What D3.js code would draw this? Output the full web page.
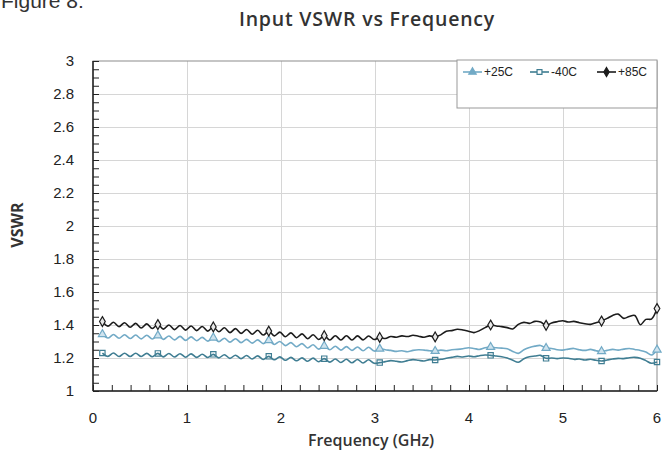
<!DOCTYPE html>
<html>
<head>
<meta charset="utf-8">
<script src="https://cdn.jsdelivr.net/npm/d3@7"></script>
<style>
body { margin: 0; background: #fff; }
text { font-family: "Liberation Sans", Arial, sans-serif; }
</style>
</head>
<body>
<script>
// frequency points (GHz)
var freq = [0.100,0.159,0.218,0.277,0.336,0.395,0.454,0.513,0.572,0.631,
  0.690,0.749,0.808,0.867,0.926,0.985,1.044,1.103,1.162,1.221,
  1.280,1.339,1.398,1.457,1.516,1.575,1.634,1.693,1.752,1.811,
  1.870,1.929,1.988,2.047,2.106,2.165,2.224,2.283,2.342,2.401,
  2.460,2.519,2.578,2.637,2.696,2.755,2.814,2.873,2.932,2.991,
  3.050,3.109,3.168,3.227,3.286,3.345,3.404,3.463,3.522,3.581,
  3.640,3.699,3.758,3.817,3.876,3.935,3.994,4.053,4.112,4.171,
  4.230,4.289,4.348,4.407,4.466,4.525,4.584,4.643,4.702,4.761,
  4.820,4.879,4.938,4.997,5.056,5.115,5.174,5.233,5.292,5.351,
  5.410,5.469,5.528,5.587,5.646,5.705,5.764,5.823,5.882,5.941,
  6.000];

var vswr25 = [1.344,1.321,1.342,1.320,1.341,1.318,1.339,1.316,1.338,1.315,
  1.336,1.313,1.333,1.310,1.331,1.307,1.328,1.305,1.325,1.302,
  1.323,1.299,1.320,1.296,1.317,1.293,1.313,1.290,1.310,1.287,
  1.307,1.282,1.300,1.275,1.293,1.268,1.287,1.261,1.280,1.254,
  1.273,1.250,1.271,1.248,1.269,1.246,1.267,1.244,1.265,1.242,
  1.256,1.250,1.246,1.240,1.244,1.238,1.246,1.250,1.248,1.244,
  1.242,1.248,1.244,1.250,1.252,1.256,1.262,1.258,1.252,1.262,
  1.266,1.262,1.260,1.256,1.240,1.228,1.250,1.264,1.272,1.276,
  1.260,1.258,1.250,1.248,1.254,1.258,1.250,1.246,1.252,1.244,
  1.240,1.246,1.252,1.248,1.254,1.258,1.252,1.246,1.236,1.218,
  1.250];

var vswrM40 = [1.230,1.210,1.230,1.209,1.229,1.209,1.229,1.209,1.228,1.208,
  1.228,1.207,1.227,1.206,1.226,1.205,1.225,1.204,1.223,1.203,
  1.222,1.201,1.220,1.198,1.217,1.196,1.215,1.194,1.213,1.191,
  1.210,1.189,1.207,1.186,1.204,1.183,1.201,1.180,1.199,1.177,
  1.196,1.175,1.194,1.173,1.192,1.171,1.191,1.170,1.189,1.168,
  1.172,1.178,1.184,1.180,1.176,1.184,1.190,1.186,1.182,1.190,
  1.188,1.192,1.198,1.204,1.210,1.206,1.212,1.208,1.214,1.218,
  1.216,1.212,1.208,1.200,1.186,1.174,1.196,1.208,1.212,1.216,
  1.198,1.200,1.196,1.200,1.198,1.192,1.194,1.188,1.192,1.186,
  1.182,1.188,1.194,1.198,1.196,1.202,1.204,1.198,1.184,1.168,
  1.176];

var vswr85 = [1.421,1.393,1.417,1.390,1.414,1.386,1.410,1.382,1.407,1.379,
  1.403,1.375,1.400,1.372,1.397,1.369,1.394,1.366,1.391,1.363,
  1.388,1.359,1.383,1.354,1.378,1.349,1.373,1.344,1.368,1.339,
  1.363,1.334,1.357,1.329,1.352,1.323,1.346,1.317,1.341,1.312,
  1.335,1.309,1.335,1.309,1.335,1.309,1.334,1.310,1.333,1.312,
  1.325,1.318,1.330,1.326,1.334,1.330,1.338,1.332,1.326,1.334,
  1.328,1.340,1.362,1.366,1.374,1.370,1.362,1.354,1.366,1.384,
  1.400,1.394,1.390,1.384,1.376,1.404,1.416,1.410,1.422,1.418,
  1.398,1.412,1.420,1.426,1.418,1.422,1.414,1.408,1.404,1.414,
  1.424,1.440,1.458,1.466,1.440,1.452,1.458,1.402,1.434,1.436,
  1.500];

var xTicks = [0, 1, 2, 3, 4, 5, 6];
var yTicks = [1, 1.2, 1.4, 1.6, 1.8, 2, 2.2, 2.4, 2.6, 2.8, 3];
var yTickLabels = ['1', '1.2', '1.4', '1.6', '1.8', '2', '2.2', '2.4', '2.6', '2.8', '3'];
var seriesNames = ['+25C', '-40C', '+85C'];

var svg = d3.select('body').append('svg')
    .attr('width', 662)
    .attr('height', 456);

var x = d3.scaleLinear().domain([0, 6]).range([93, 657]);
var y = d3.scaleLinear().domain([1, 3]).range([391, 61]);

// cropped caption at the very top
svg.append('text')
    .attr('x', 1)
    .attr('y', 8)
    .attr('font-size', 21)
    .attr('fill', '#333')
    .text('Figure 8:');

// grid
svg.append('g')
    .attr('transform', 'translate(0,391)')
    .call(d3.axisBottom(x).tickValues(xTicks.slice(1, -1)).tickSize(-330).tickFormat(''))
    .call(function(g) {
        g.select('.domain').remove();
        g.selectAll('line').attr('stroke', '#d6d6d6');
    });
svg.append('g')
    .attr('transform', 'translate(93,0)')
    .call(d3.axisLeft(y).tickValues(yTicks.slice(1, -1)).tickSize(-564).tickFormat(''))
    .call(function(g) {
        g.select('.domain').remove();
        g.selectAll('line').attr('stroke', '#d6d6d6');
    });

// plot frame
svg.append('rect')
    .attr('x', x(0)).attr('y', y(3))
    .attr('width', x(6) - x(0)).attr('height', y(1) - y(3))
    .attr('fill', 'none')
    .attr('stroke', '#8c8c8c');

// minor ticks pointing inward
svg.append('g')
    .attr('transform', 'translate(0,391)')
    .call(d3.axisBottom(x).tickValues(d3.range(0, 6.01, 0.2)).tickSize(-6).tickFormat(''))
    .call(function(g) {
        g.select('.domain').remove();
        g.selectAll('line').attr('stroke', '#222');
    });
svg.append('g')
    .attr('transform', 'translate(93,0)')
    .call(d3.axisLeft(y).tickValues(d3.range(1, 3.001, 0.05)).tickSize(-6).tickFormat(''))
    .call(function(g) {
        g.select('.domain').remove();
        g.selectAll('line').attr('stroke', '#222');
    });

// axis lines
svg.append('line')
    .attr('x1', x(0)).attr('x2', x(6))
    .attr('y1', y(1)).attr('y2', y(1))
    .attr('stroke', '#222').attr('stroke-width', 1.5);
svg.append('line')
    .attr('x1', x(0)).attr('x2', x(0))
    .attr('y1', y(1)).attr('y2', y(3))
    .attr('stroke', '#222').attr('stroke-width', 1.5);

// tick labels
svg.selectAll('.xlab')
    .data(xTicks)
    .enter().append('text')
    .attr('x', function(d) { return x(d); })
    .attr('y', 423)
    .attr('text-anchor', 'middle')
    .attr('font-size', 15)
    .attr('fill', '#222')
    .text(function(d) { return d; });

svg.selectAll('.ylab')
    .data(yTicks)
    .enter().append('text')
    .attr('x', 74)
    .attr('y', function(d) { return y(d) + 5; })
    .attr('text-anchor', 'end')
    .attr('font-size', 15)
    .attr('fill', '#222')
    .text(function(d, i) { return yTickLabels[i]; });

// titles
svg.append('text')
    .attr('x', 367).attr('y', 26)
    .attr('text-anchor', 'middle')
    .style('font-family', '"Open Sans", sans-serif')
    .style('letter-spacing', '0.8px')
    .attr('font-weight', 600)
    .attr('font-size', 19.5)
    .attr('fill', '#333')
    .text('Input VSWR vs Frequency');

svg.append('text')
    .attr('x', 371).attr('y', 446)
    .attr('text-anchor', 'middle')
    .style('font-family', '"Open Sans", sans-serif')
    .attr('font-weight', 600)
    .attr('font-size', 16)
    .attr('fill', '#333')
    .text('Frequency (GHz)');

svg.append('text')
    .attr('transform', 'translate(23,225) rotate(-90)')
    .attr('text-anchor', 'middle')
    .style('font-family', '"Open Sans", sans-serif')
    .attr('font-weight', 'bold')
    .attr('font-size', 16)
    .attr('fill', '#333')
    .text('VSWR');

// series
var series = [
    { name: seriesNames[0], values: vswr25, color: '#72aac6', symbol: d3.symbolTriangle, fill: '#cfe3ee', legendFill: '#72aac6' },
    { name: seriesNames[1], values: vswrM40, color: '#3f7d92', symbol: d3.symbolSquare, fill: 'none', legendFill: '#ffffff' },
    { name: seriesNames[2], values: vswr85, color: '#1c1c1c', symbol: d3.symbolDiamond, fill: '#e8e8e8', legendFill: '#1c1c1c' }
];

var line = d3.line()
    .x(function(d, i) { return x(freq[i]); })
    .y(function(d) { return y(d); })
    .curve(d3.curveCatmullRom.alpha(0.5));

series.forEach(function(s) {
    svg.append('path')
        .datum(s.values)
        .attr('d', line)
        .attr('fill', 'none')
        .attr('stroke', s.color)
        .attr('stroke-width', 1.6);

    svg.selectAll(null)
        .data(s.values.filter(function(d, i) { return i % 10 === 0; }))
        .enter().append('path')
        .attr('transform', function(d, i) { return 'translate(' + x(freq[i * 10]) + ',' + y(d) + ')'; })
        .attr('d', d3.symbol().type(s.symbol).size(28))
        .attr('fill', s.fill)
        .attr('stroke', s.color)
        .attr('stroke-width', 1.2);
});

// legend
var legend = svg.append('g');
legend.append('rect')
    .attr('x', 457).attr('y', 60)
    .attr('width', 200).attr('height', 48)
    .attr('fill', '#fff')
    .attr('stroke', '#999');

var legendX = [463, 530, 597];
series.forEach(function(s, i) {
    var lx = legendX[i];
    legend.append('line')
        .attr('x1', lx).attr('x2', lx + 19)
        .attr('y1', 72).attr('y2', 72)
        .attr('stroke', s.color).attr('stroke-width', 1.6);
    legend.append('path')
        .attr('transform', 'translate(' + (lx + 9.5) + ',72)')
        .attr('d', d3.symbol().type(s.symbol).size(24))
        .attr('fill', s.legendFill)
        .attr('stroke', s.color)
        .attr('stroke-width', 1.2);
    legend.append('text')
        .attr('x', lx + 21).attr('y', 76)
        .attr('font-size', 12)
        .attr('fill', '#222')
        .text(s.name);
});
</script>
</body>
</html>
